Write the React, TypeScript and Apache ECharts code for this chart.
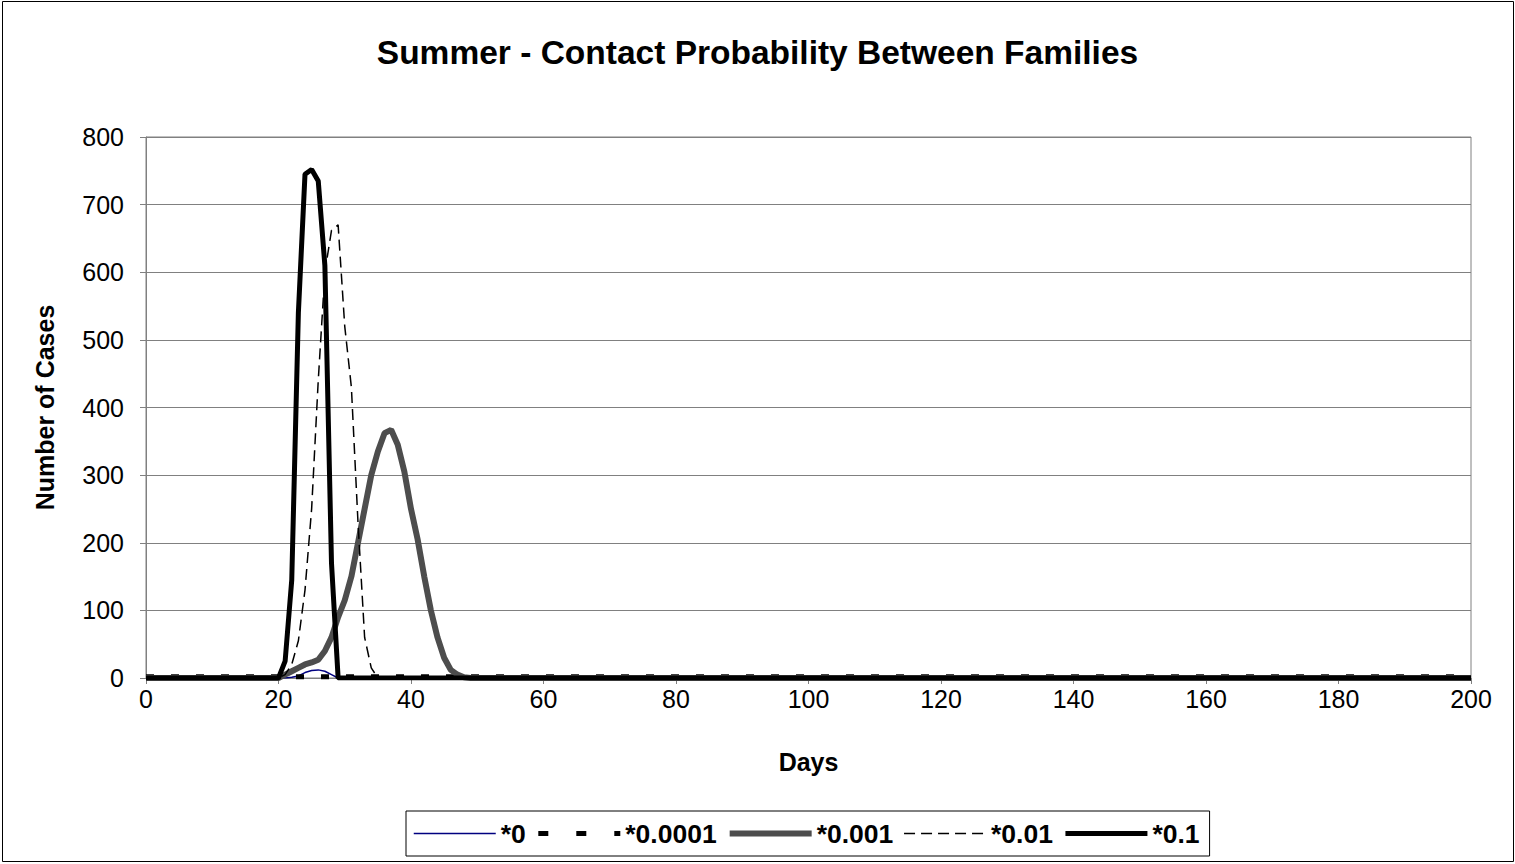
import React, { useEffect, useRef } from "react";
import * as echarts from "echarts";

// Day grid: day 0, the outbreak window (days 20–49), and the last day 200.
const days = [0, 20, 21, 22, 23, 24, 25, 26, 27, 28, 29, 30, 31, 32, 33, 34, 35, 36, 37, 38, 39, 40, 41, 42, 43, 44, 45, 46, 47, 48, 49, 200];

// Number of cases per day for each contact-probability multiplier.
const casesX0 = [0, 0, 0, 1, 3, 8, 11, 12, 10, 5, 0, 0, 0, 0, 0, 0, 0, 0, 0, 0, 0, 0, 0, 0, 0, 0, 0, 0, 0, 0, 0, 0];
const casesX00001 = [2, 2, 2, 2, 2, 2, 2, 2, 2, 2, 2, 2, 2, 2, 2, 2, 2, 2, 2, 2, 2, 2, 2, 2, 2, 2, 2, 2, 2, 2, 2, 2];
const casesX0001 = [0, 0, 5, 10, 15, 20, 23, 27, 40, 60, 90, 115, 150, 200, 250, 300, 335, 362, 367, 345, 305, 250, 205, 150, 100, 60, 30, 12, 5, 1, 0, 0];
const casesX001 = [0, 0, 5, 20, 55, 130, 250, 440, 600, 662, 670, 520, 430, 230, 60, 15, 0, 0, 0, 0, 0, 0, 0, 0, 0, 0, 0, 0, 0, 0, 0, 0];
const casesX01 = [0, 0, 25, 145, 540, 745, 752, 735, 610, 170, 0, 0, 0, 0, 0, 0, 0, 0, 0, 0, 0, 0, 0, 0, 0, 0, 0, 0, 0, 0, 0, 0];

const seriesNames = ["*0", "*0.0001", "*0.001", "*0.01", "*0.1"];
const xTicks = { min: 0, max: 200, interval: 20 };
const yTicks = { min: 0, max: 800, interval: 100 };

// Line styles for the plotted series.
const lineStyles: any[] = [
  { color: "#000080", width: 1.5, type: "solid" },
  { color: "#000000", width: 5, type: [8, 17] },
  { color: "#4d4d4d", width: 6, type: "solid" },
  { color: "#000000", width: 1.5, type: [11, 6] },
  { color: "#000000", width: 5, type: "solid" },
];
// Dash patterns for the short legend samples.
const legendDash: any[] = ["solid", [10, 28], "solid", [11, 6], "solid"];
const seriesValues = [casesX0, casesX00001, casesX0001, casesX001, casesX01];

const FONT = "'Liberation Sans', Arial, Helvetica, sans-serif";

const pairs = (vals: number[]) => days.map((d, i) => [d, vals[i]]);

export default function App() {
  const ref = useRef<HTMLDivElement>(null);

  useEffect(() => {
    if (!ref.current) return;
    const chart = echarts.init(ref.current, undefined, { renderer: "svg" });

    chart.setOption({
      animation: false,
      backgroundColor: "#ffffff",
      textStyle: { fontFamily: FONT },
      title: {
        text: "Summer - Contact Probability Between Families",
        left: "center",
        top: 30,
        textStyle: { fontFamily: FONT, fontSize: 33.5, fontWeight: "bold", color: "#000" },
      },
      graphic: [
        {
          type: "rect",
          shape: { x: 2.5, y: 1.5, width: 1511, height: 860 },
          style: { fill: "none", stroke: "#000", lineWidth: 1 },
          silent: true,
        },
      ],
      legend: {
        data: seriesNames.map((name, i) => ({
          name,
          lineStyle: { color: lineStyles[i].color, width: lineStyles[i].width, type: legendDash[i] },
        })),
        left: 406,
        top: 811,
        orient: "horizontal",
        itemWidth: 82,
        itemHeight: 10,
        itemGap: 10,
        padding: [9, 10, 9, 7],
        borderColor: "#000",
        borderWidth: 1,
        // line samples only: hide the marker dot drawn on each sample
        itemStyle: { color: "rgba(0,0,0,0)", borderColor: "rgba(0,0,0,0)", borderWidth: 0 },
        textStyle: { fontFamily: FONT, fontSize: 26.5, fontWeight: "bold", color: "#000" },
      },
      grid: {
        left: 146,
        right: 44,
        top: 137,
        height: 541,
        show: true,
        borderColor: "#808080",
        borderWidth: 1,
        backgroundColor: "#ffffff",
      },
      xAxis: {
        type: "value",
        ...xTicks,
        name: "Days",
        nameLocation: "middle",
        nameGap: 71,
        nameTextStyle: { fontFamily: FONT, fontSize: 25, fontWeight: "bold", color: "#000" },
        axisLine: { show: true, lineStyle: { color: "#808080", width: 1 } },
        axisTick: { show: true, length: 6, lineStyle: { color: "#808080" } },
        axisLabel: { fontFamily: FONT, fontSize: 25, color: "#000", margin: 8 },
        splitLine: { show: false },
      },
      yAxis: {
        type: "value",
        ...yTicks,
        name: "Number of Cases",
        nameLocation: "middle",
        nameGap: 89,
        nameRotate: 90,
        nameTextStyle: { fontFamily: FONT, fontSize: 25, fontWeight: "bold", color: "#000" },
        axisLine: { show: true, lineStyle: { color: "#808080", width: 1 } },
        axisTick: { show: true, length: 6, lineStyle: { color: "#808080" } },
        axisLabel: { fontFamily: FONT, fontSize: 25, color: "#000", margin: 22 },
        splitLine: { show: true, lineStyle: { color: "#808080", width: 1 } },
      },
      series: seriesNames.map((name, i) => ({
        type: "line",
        name,
        symbol: "none",
        showSymbol: false,
        smooth: false,
        data: pairs(seriesValues[i]),
        lineStyle: lineStyles[i],
        itemStyle: { color: lineStyles[i].color },
      })),
    });

    return () => chart.dispose();
  }, []);

  return (
    <div
      ref={ref}
      style={{ position: "fixed", left: 0, top: 0, width: 1515, height: 864, background: "#fff" }}
    />
  );
}
